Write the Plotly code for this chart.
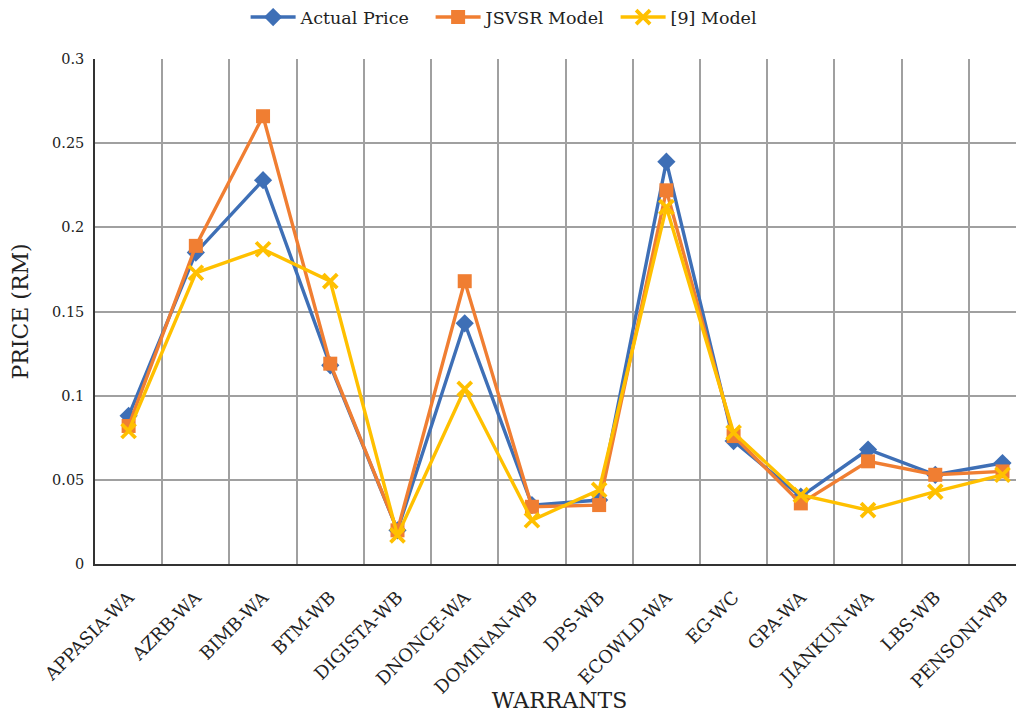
import plotly.graph_objects as go

warrants = ["APPASIA-WA", "AZRB-WA", "BIMB-WA", "BTM-WB", "DIGISTA-WB", "DNONCE-WA",
            "DOMINAN-WB", "DPS-WB", "ECOWLD-WA", "EG-WC", "GPA-WA", "JIANKUN-WA",
            "LBS-WB", "PENSONI-WB"]
actual_price = [0.088, 0.185, 0.228, 0.118, 0.020, 0.143, 0.035, 0.038, 0.239, 0.073,
                0.040, 0.068, 0.053, 0.060]
jsvsr_model = [0.082, 0.189, 0.266, 0.119, 0.020, 0.168, 0.034, 0.035, 0.222, 0.076,
               0.036, 0.061, 0.053, 0.055]
model_9 = [0.079, 0.173, 0.187, 0.168, 0.017, 0.104, 0.026, 0.044, 0.212, 0.078,
           0.041, 0.032, 0.043, 0.053]

FONT = "DejaVu Serif"
fig = go.Figure()
fig.add_trace(go.Scatter(x=warrants, y=actual_price, name="Actual Price", mode="lines+markers",
                         line=dict(color="#3E6FB6", width=3.4),
                         marker=dict(symbol="diamond", size=14, color="#3E6FB6")))
fig.add_trace(go.Scatter(x=warrants, y=jsvsr_model, name="JSVSR Model", mode="lines+markers",
                         line=dict(color="#F07E32", width=3.4),
                         marker=dict(symbol="square", size=14, color="#F07E32")))
fig.add_trace(go.Scatter(x=warrants, y=model_9, name="[9] Model", mode="lines+markers",
                         line=dict(color="#FFC000", width=3.4),
                         marker=dict(symbol="x-thin", size=14, color="#FFC000",
                                     line=dict(color="#FFC000", width=3.8))))

fig.update_layout(
    width=1016, height=705,
    margin=dict(l=87, r=0, t=51, b=149),
    paper_bgcolor="white", plot_bgcolor="white",
    font=dict(family=FONT, color="#222222"),
    legend=dict(orientation="h", xref="container", x=0.507, xanchor="center",
                yref="container", y=0.987, yanchor="middle",
                font=dict(family=FONT, size=17.5, color="#222222"),
                itemwidth=45, entrywidth=125, entrywidthmode="pixels"),
    xaxis=dict(type="category", range=[-0.5, 13.32], tickson="boundaries",
               automargin=False,
               showgrid=True, gridcolor="#A0A0A0", gridwidth=1.5,
               showline=True, linecolor="#333333", linewidth=1.5,
               ticks="", tickangle=-45, ticklabelstandoff=14,
               tickfont=dict(family=FONT, size=18, color="#222222"),
               title=dict(text="WARRANTS", standoff=0,
                          font=dict(family=FONT, size=22, color="#222222"))),
    yaxis=dict(range=[0, 0.3], tickvals=[0, 0.05, 0.1, 0.15, 0.2, 0.25, 0.3],
               ticktext=["0", "0.05", "0.1", "0.15", "0.2", "0.25", "0.3"],
               automargin=False,
               showgrid=True, gridcolor="#A0A0A0", gridwidth=1.5, zeroline=False,
               showline=True, linecolor="#333333", linewidth=1.5,
               ticks="", ticklabelstandoff=6,
               tickfont=dict(family=FONT, size=14.5, color="#222222"),
               title=dict(text="PRICE (RM)", standoff=22,
                          font=dict(family=FONT, size=22, color="#222222"))),
)

fig.write_html("out.html")
